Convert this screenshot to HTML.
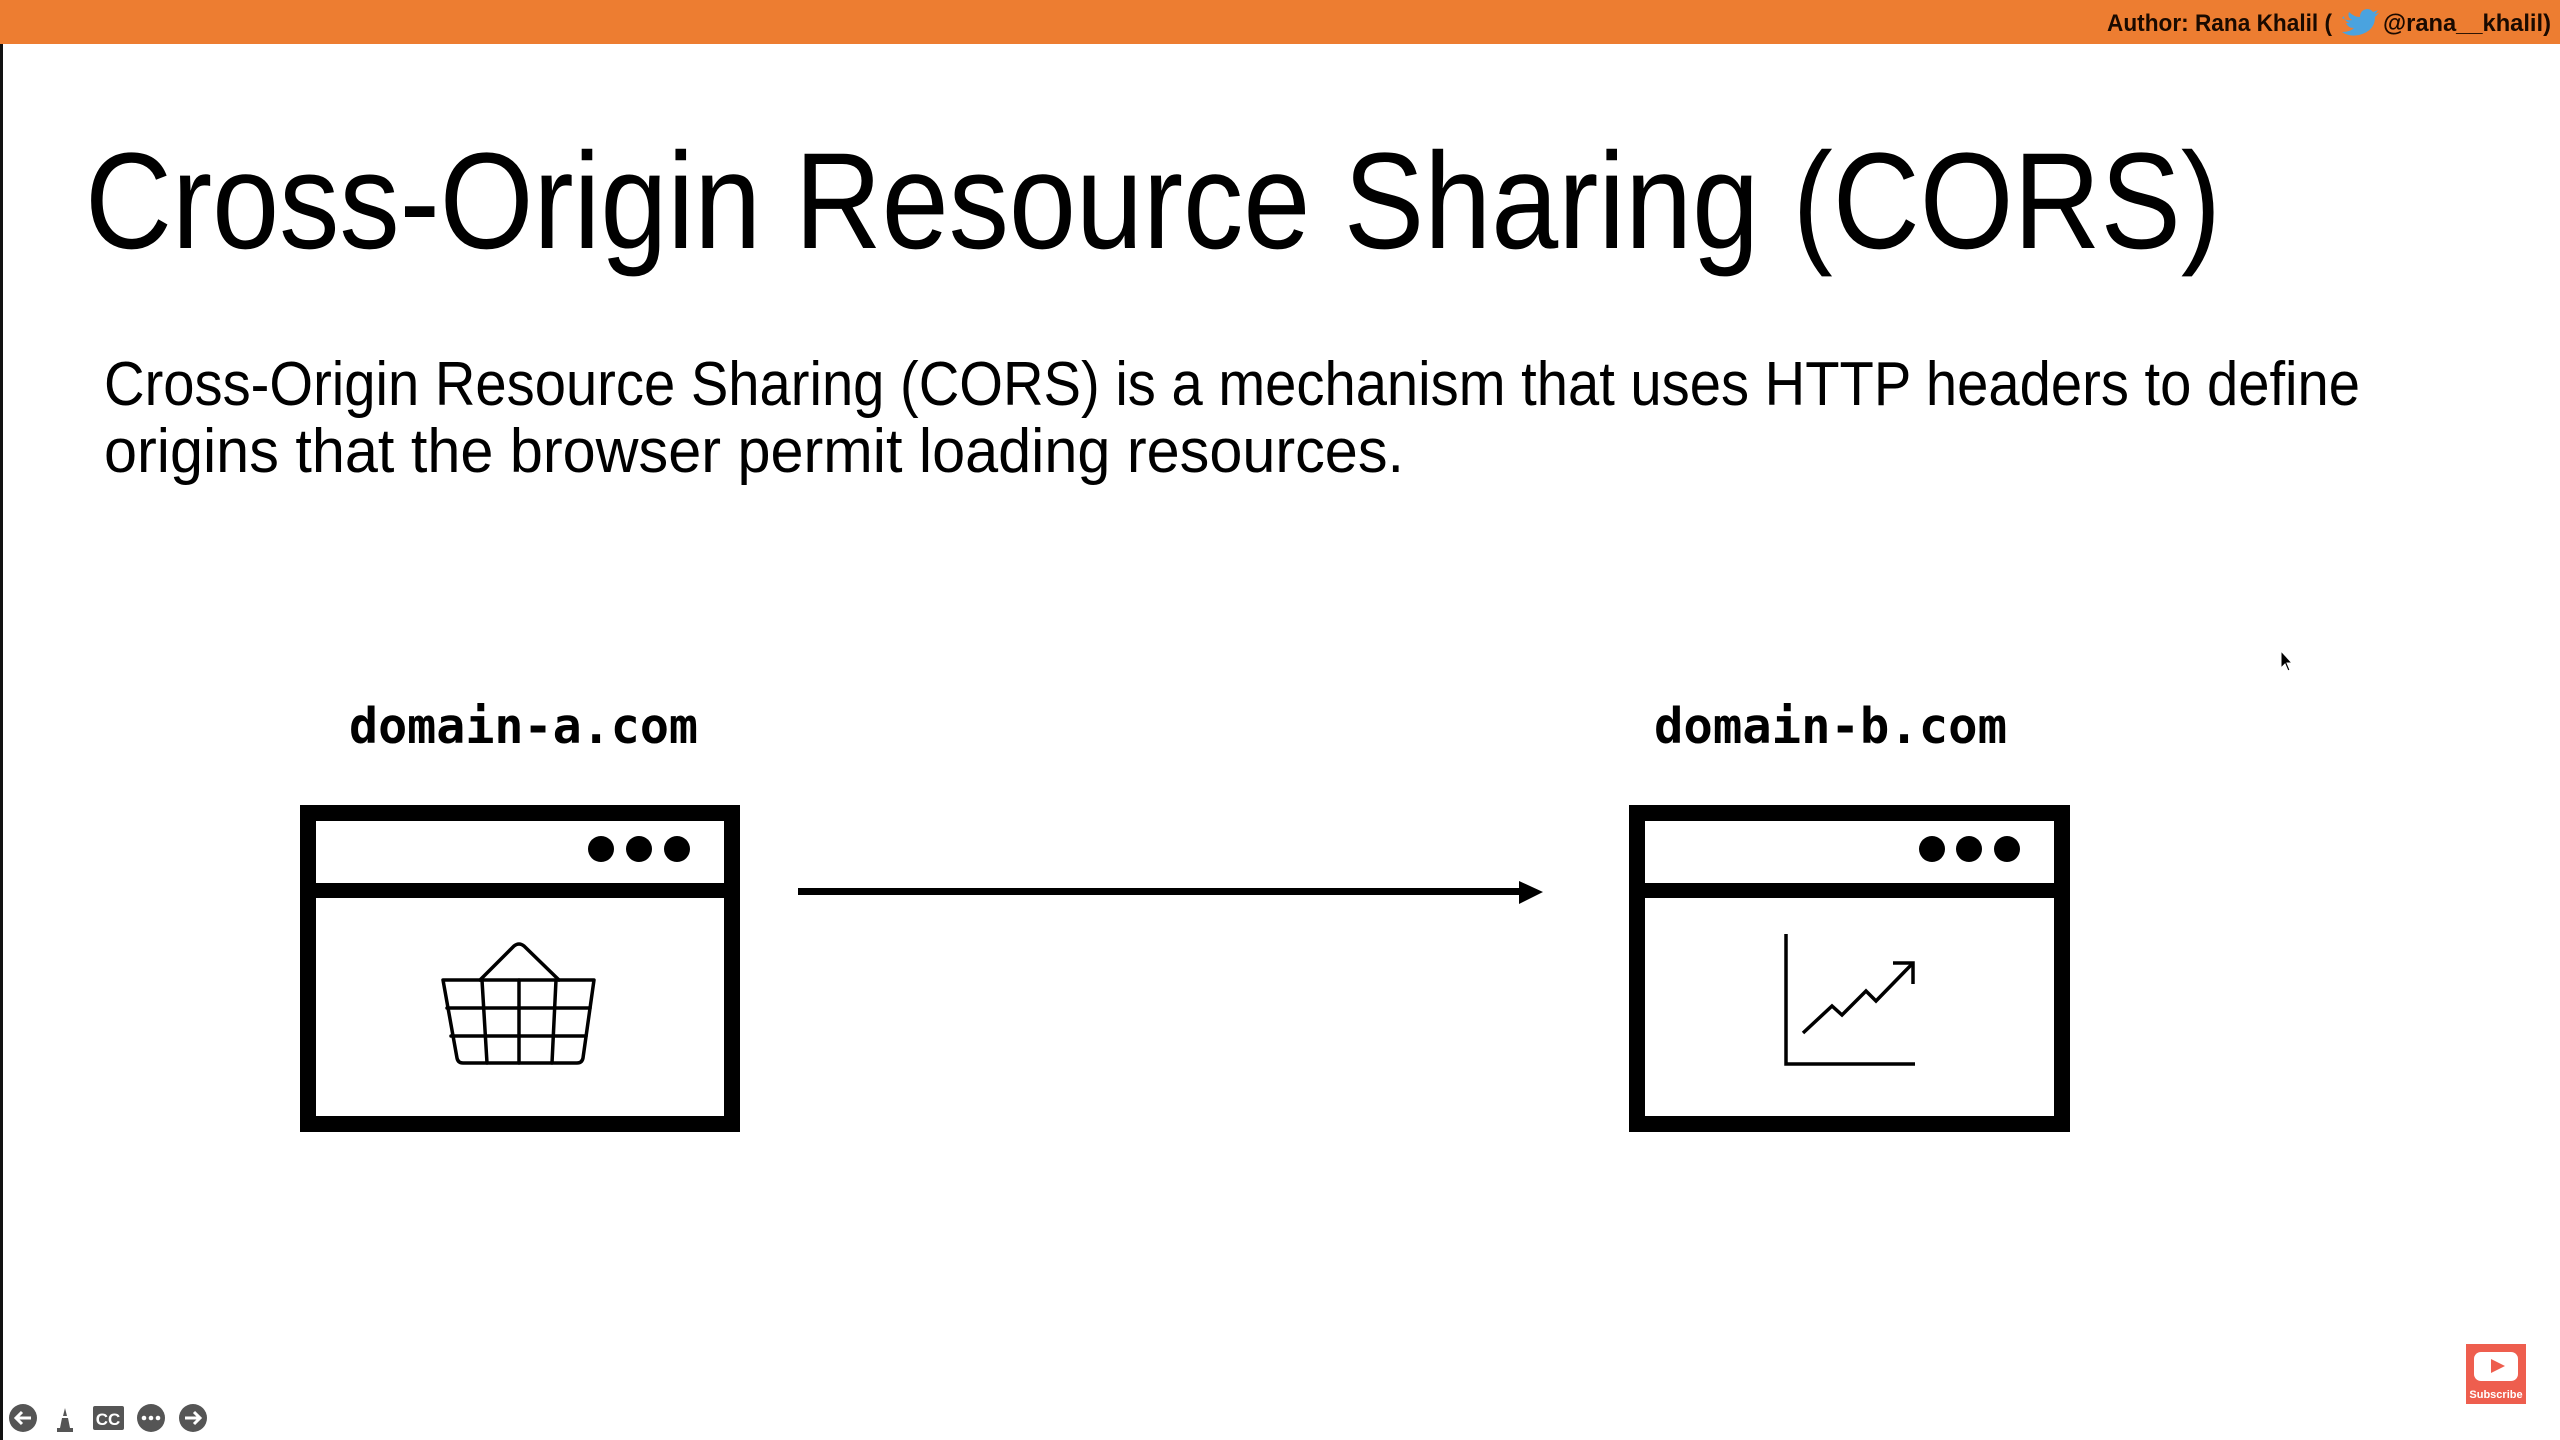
<!DOCTYPE html>
<html><head><meta charset="utf-8"><style>
html,body{margin:0;padding:0;background:#fff;}
svg{display:block;}
</style></head><body>
<svg width="2560" height="1440" viewBox="0 0 2560 1440" xmlns="http://www.w3.org/2000/svg">
<rect x="0" y="0" width="2560" height="1440" fill="#fff"/>
<rect x="0" y="0" width="2560" height="44" fill="#ED7D31"/>
<rect x="0" y="44" width="3" height="1396" fill="#111"/>
<text x="2107" y="31" font-family="Liberation Sans, sans-serif" font-weight="bold" font-size="24" fill="#1a0a00" textLength="225" lengthAdjust="spacingAndGlyphs">Author: Rana Khalil (</text>
<path d="M2342 18 q6 3 10 2 q-5 -3 -3 -8 q5 5 11 5 q0 -7 7 -8 q4 0 6 3 l5 -2 l-3 4 l4 -1 l-4 4 q0 14 -16 18 q-10 2 -17 -3 q8 0 12 -4 q-6 0 -8 -5 l4 0 q-6 -2 -6 -7z" fill="#4AA3DF"/>
<text x="2383" y="31" font-family="Liberation Sans, sans-serif" font-weight="bold" font-size="24" fill="#1a0a00" textLength="168" lengthAdjust="spacingAndGlyphs">@rana__khalil)</text>

<text x="85" y="248" font-family="Liberation Sans, sans-serif" font-size="137" fill="#000" textLength="2136" lengthAdjust="spacingAndGlyphs">Cross-Origin Resource Sharing (CORS)</text>
<text x="104" y="405" font-family="Liberation Sans, sans-serif" font-size="62" fill="#000" textLength="2256" lengthAdjust="spacingAndGlyphs">Cross-Origin Resource Sharing (CORS) is a mechanism that uses HTTP headers to define</text>
<text x="104" y="472" font-family="Liberation Sans, sans-serif" font-size="62" fill="#000" textLength="1300" lengthAdjust="spacingAndGlyphs">origins that the browser permit loading resources.</text>

<text x="349" y="743" font-family="DejaVu Sans Mono, Liberation Mono, monospace" font-weight="bold" font-size="49" fill="#000" textLength="349" lengthAdjust="spacingAndGlyphs">domain-a.com</text>
<text x="1654" y="743" font-family="DejaVu Sans Mono, Liberation Mono, monospace" font-weight="bold" font-size="49" fill="#000" textLength="353" lengthAdjust="spacingAndGlyphs">domain-b.com</text>

<!-- window A -->
<rect x="308" y="813" width="424" height="311" fill="none" stroke="#000" stroke-width="16"/>
<rect x="300" y="883" width="440" height="15" fill="#000"/>
<circle cx="601" cy="849" r="13"/><circle cx="639" cy="849" r="13"/><circle cx="677" cy="849" r="13"/>
<g fill="none" stroke="#000" stroke-width="3.5" stroke-linejoin="round" stroke-linecap="round">
<path d="M443 980 L594 980 L583 1058 Q582 1063 577 1063 L463 1063 Q458 1063 457 1058 Z"/>
<path d="M480 980 L514 946 Q519 942 524 946 L559 980"/>
<path d="M447 1008 L590 1008 M451 1036 L586 1036"/>
<path d="M519 980 L519 1063 M482 980 L487 1063 M556 980 L552 1063"/>
</g>

<!-- arrow -->
<rect x="798" y="888" width="725" height="7" fill="#000"/>
<polygon points="1519,881 1543,892 1519,904" fill="#000"/>

<!-- window B -->
<rect x="1637" y="813" width="425" height="311" fill="none" stroke="#000" stroke-width="16"/>
<rect x="1629" y="883" width="441" height="15" fill="#000"/>
<circle cx="1932" cy="849" r="13"/><circle cx="1969" cy="849" r="13"/><circle cx="2007" cy="849" r="13"/>
<g fill="none" stroke="#000" stroke-width="3.5">
<path d="M1786 934 L1786 1064 L1915 1064"/>
<path d="M1803 1033 L1832 1006 L1842 1015 L1866 991 L1876 1001 L1913 963"/>
<path d="M1893 963 L1913 963 L1913 984"/>
</g>

<!-- cursor -->
<path d="M2281 651 L2281 668 L2285 664 L2288 671 L2290 670 L2287 663 L2292 663 Z" fill="#000" stroke="#fff" stroke-width="1"/>

<!-- bottom controls -->
<g fill="#555">
<circle cx="23" cy="1418" r="14"/>
<path d="M60 1428 L70 1428 L68 1418 L62 1418 Z M63 1416 L67 1416 L65 1408 Z M57 1428 h16 v4 h-16z"/>
<rect x="93" y="1406" width="31" height="24" rx="2"/>
<circle cx="151" cy="1418" r="14"/>
<circle cx="193" cy="1418" r="14"/>
</g>
<g stroke="#fff" stroke-width="3" fill="none">
<path d="M31 1418 H16 M22 1412 L16 1418 L22 1424"/>
<path d="M185 1418 H200 M194 1412 L200 1418 L194 1424"/>
</g>
<text x="108" y="1425" text-anchor="middle" font-family="Liberation Sans, sans-serif" font-weight="bold" font-size="17" fill="#fff">CC</text>
<circle cx="144" cy="1418" r="2.3" fill="#fff"/><circle cx="151" cy="1418" r="2.3" fill="#fff"/><circle cx="158" cy="1418" r="2.3" fill="#fff"/>

<!-- subscribe -->
<rect x="2466" y="1344" width="60" height="60" fill="#EE5E4E"/>
<rect x="2474" y="1352" width="44" height="29" rx="7" fill="#fff"/>
<polygon points="2491,1359 2505,1366 2491,1373" fill="#EE5E4E"/>
<text x="2496" y="1398" text-anchor="middle" font-family="Liberation Sans, sans-serif" font-weight="bold" font-size="11" fill="#fff">Subscribe</text>
</svg>
</body></html>
